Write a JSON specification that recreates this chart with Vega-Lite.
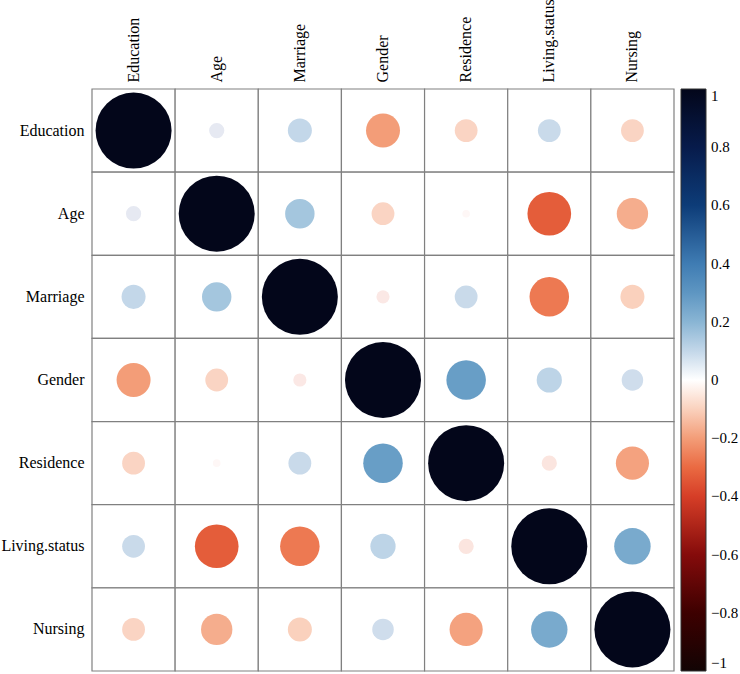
{
  "$schema": "https://vega.github.io/schema/vega-lite/v6.json",
  "autosize": {"type": "none"},
  "padding": {"left": 92, "top": 89, "right": 66, "bottom": 3},
  "width": 582,
  "height": 582,
  "background": "white",
  "config": {"view": {"stroke": null}},
  "data": {"values": [
    {"row": "Education", "col": "Education", "r": 1},
    {"row": "Education", "col": "Age", "r": 0.04},
    {"row": "Education", "col": "Marriage", "r": 0.10},
    {"row": "Education", "col": "Gender", "r": -0.20},
    {"row": "Education", "col": "Residence", "r": -0.09},
    {"row": "Education", "col": "Living.status", "r": 0.09},
    {"row": "Education", "col": "Nursing", "r": -0.09},
    {"row": "Age", "col": "Education", "r": 0.04},
    {"row": "Age", "col": "Age", "r": 1},
    {"row": "Age", "col": "Marriage", "r": 0.15},
    {"row": "Age", "col": "Gender", "r": -0.09},
    {"row": "Age", "col": "Residence", "r": -0.01},
    {"row": "Age", "col": "Living.status", "r": -0.33},
    {"row": "Age", "col": "Nursing", "r": -0.17},
    {"row": "Marriage", "col": "Education", "r": 0.10},
    {"row": "Marriage", "col": "Age", "r": 0.15},
    {"row": "Marriage", "col": "Marriage", "r": 1},
    {"row": "Marriage", "col": "Gender", "r": -0.03},
    {"row": "Marriage", "col": "Residence", "r": 0.09},
    {"row": "Marriage", "col": "Living.status", "r": -0.27},
    {"row": "Marriage", "col": "Nursing", "r": -0.10},
    {"row": "Gender", "col": "Education", "r": -0.20},
    {"row": "Gender", "col": "Age", "r": -0.09},
    {"row": "Gender", "col": "Marriage", "r": -0.03},
    {"row": "Gender", "col": "Gender", "r": 1},
    {"row": "Gender", "col": "Residence", "r": 0.27},
    {"row": "Gender", "col": "Living.status", "r": 0.11},
    {"row": "Gender", "col": "Nursing", "r": 0.08},
    {"row": "Residence", "col": "Education", "r": -0.09},
    {"row": "Residence", "col": "Age", "r": -0.01},
    {"row": "Residence", "col": "Marriage", "r": 0.09},
    {"row": "Residence", "col": "Gender", "r": 0.27},
    {"row": "Residence", "col": "Residence", "r": 1},
    {"row": "Residence", "col": "Living.status", "r": -0.04},
    {"row": "Residence", "col": "Nursing", "r": -0.19},
    {"row": "Living.status", "col": "Education", "r": 0.09},
    {"row": "Living.status", "col": "Age", "r": -0.33},
    {"row": "Living.status", "col": "Marriage", "r": -0.27},
    {"row": "Living.status", "col": "Gender", "r": 0.11},
    {"row": "Living.status", "col": "Residence", "r": -0.04},
    {"row": "Living.status", "col": "Living.status", "r": 1},
    {"row": "Living.status", "col": "Nursing", "r": 0.23},
    {"row": "Nursing", "col": "Education", "r": -0.09},
    {"row": "Nursing", "col": "Age", "r": -0.17},
    {"row": "Nursing", "col": "Marriage", "r": -0.10},
    {"row": "Nursing", "col": "Gender", "r": 0.08},
    {"row": "Nursing", "col": "Residence", "r": -0.19},
    {"row": "Nursing", "col": "Living.status", "r": 0.23},
    {"row": "Nursing", "col": "Nursing", "r": 1}
  ]},
  "encoding": {
    "x": {
      "field": "col", "type": "nominal",
      "sort": ["Education", "Age", "Marriage", "Gender", "Residence", "Living.status", "Nursing"],
      "scale": {"paddingInner": 0, "paddingOuter": 0},
      "axis": {"orient": "top", "title": null, "domain": false, "ticks": false, "labelAngle": 270, "labelAlign": "left", "labelBaseline": "middle", "labelPadding": 7, "labelFont": "Liberation Serif", "labelFontSize": 16, "labelColor": "black"}
    },
    "y": {
      "field": "row", "type": "nominal",
      "sort": ["Education", "Age", "Marriage", "Gender", "Residence", "Living.status", "Nursing"],
      "scale": {"paddingInner": 0, "paddingOuter": 0},
      "axis": {"title": null, "domain": false, "ticks": false, "labelPadding": 8, "labelFont": "Liberation Serif", "labelFontSize": 16, "labelColor": "black"}
    }
  },
  "layer": [
    {
      "mark": {"type": "rect", "fill": "white", "stroke": "#808080", "strokeWidth": 1.2}
    },
    {
      "mark": {"type": "circle", "opacity": 1},
      "encoding": {
        "size": {"field": "r", "type": "quantitative", "scale": {"domain": [-1, 0, 1], "range": [5780, 0, 5780]}, "legend": null},
        "color": {
          "field": "r", "type": "quantitative",
          "scale": {
            "domain": [-1, -0.8, -0.6, -0.4, -0.3, -0.2, -0.1, -0.03, 0, 0.03, 0.1, 0.15, 0.25, 0.4, 0.6, 0.8, 1],
            "range": ["#120404", "#3d0000", "#850b0b", "#d63e27", "#ea6a42", "#f39d78", "#fad1bd", "#fbe8e5", "#ffffff", "#ececf3", "#c3d7e9", "#a4c6de", "#6ea3c9", "#3f7cb3", "#0d3c78", "#071b4b", "#03061a"],
            "interpolate": "rgb"
          },
          "legend": {
            "orient": "none", "legendX": 589, "legendY": 0, "direction": "vertical",
            "gradientLength": 582, "gradientThickness": 25,
            "values": [-1, -0.8, -0.6, -0.4, -0.2, 0, 0.2, 0.4, 0.6, 0.8, 1],
            "format": ".1~f", "title": null, "labelOverlap": false,
            "labelBaseline": "middle",
            "labelFont": "Liberation Serif", "labelFontSize": 15, "labelColor": "black", "labelOffset": 5,
            "gradientStrokeColor": "#333", "gradientStrokeWidth": 1,
            "encode": {"labels": {"update": {"baseline": {"value": "middle"}}}}
          }
        }
      }
    }
  ]
}
